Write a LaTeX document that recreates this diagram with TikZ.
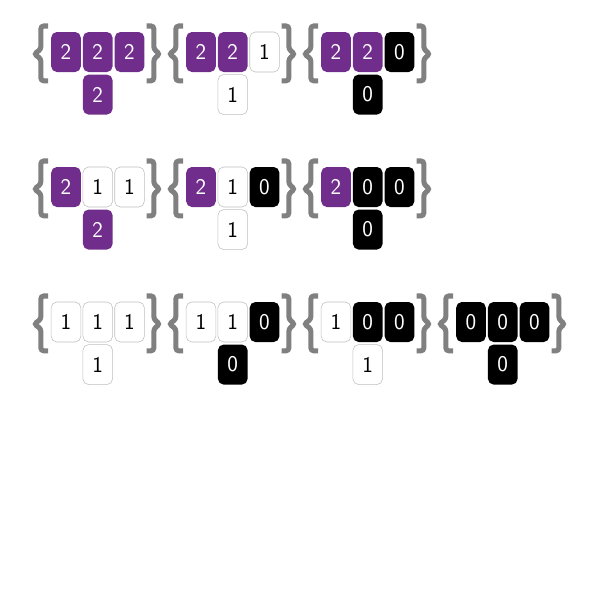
\documentclass[tikz,border=0pt]{standalone}
\usepackage{xcolor}
\usepackage{tikz}
\usetikzlibrary{positioning,calc}
\definecolor{plum}{RGB}{113,45,140}

\begin{document}
\begin{tikzpicture}[
    cell/.style={minimum width=0.74cm, minimum height=1cm, inner sep=0pt, rounded corners=4pt, font=\fontsize{16}{18}\selectfont\sffamily},
    purplecell/.style={cell, fill=plum, text=white},
    whitecell/.style={cell, draw=black!25, fill=white, text=black},
    blackcell/.style={cell, fill=black, text=white},
    curly/.style={draw=black!50, line width=3.6pt, rounded corners=2pt}
]
    \useasboundingbox (0,0) rectangle (15,-15);

    % First row
    \node[purplecell] (s222-1) at (1.65,-1.3) {2};
    \node[purplecell, right=0.04cm of s222-1] (s222-2) {2};
    \node[purplecell, right=0.04cm of s222-2] (s222-3) {2};
    \node[purplecell, below=0.05cm of s222-2] (s222-b) {2};

    \node[purplecell] (s221-1) at (5.025,-1.3) {2};
    \node[purplecell, right=0.04cm of s221-1] (s221-2) {2};
    \node[whitecell, right=0.04cm of s221-2] (s221-3) {1};
    \node[whitecell, below=0.05cm of s221-2] (s221-b) {1};

    \node[purplecell] (s220-1) at (8.4,-1.3) {2};
    \node[purplecell, right=0.04cm of s220-1] (s220-2) {2};
    \node[blackcell, right=0.04cm of s220-2] (s220-3) {0};
    \node[blackcell, below=0.05cm of s220-2] (s220-b) {0};

    % Second row
    \node[purplecell] (s211-1) at (1.65,-4.675) {2};
    \node[whitecell, right=0.04cm of s211-1] (s211-2) {1};
    \node[whitecell, right=0.04cm of s211-2] (s211-3) {1};
    \node[purplecell, below=0.05cm of s211-2] (s211-b) {2};

    \node[purplecell] (s210-1) at (5.025,-4.675) {2};
    \node[whitecell, right=0.04cm of s210-1] (s210-2) {1};
    \node[blackcell, right=0.04cm of s210-2] (s210-3) {0};
    \node[whitecell, below=0.05cm of s210-2] (s210-b) {1};

    \node[purplecell] (s200-1) at (8.4,-4.675) {2};
    \node[blackcell, right=0.04cm of s200-1] (s200-2) {0};
    \node[blackcell, right=0.04cm of s200-2] (s200-3) {0};
    \node[blackcell, below=0.05cm of s200-2] (s200-b) {0};

    % Third row
    \node[whitecell] (s111-1) at (1.65,-8.05) {1};
    \node[whitecell, right=0.04cm of s111-1] (s111-2) {1};
    \node[whitecell, right=0.04cm of s111-2] (s111-3) {1};
    \node[whitecell, below=0.05cm of s111-2] (s111-b) {1};

    \node[whitecell] (s110-1) at (5.025,-8.05) {1};
    \node[whitecell, right=0.04cm of s110-1] (s110-2) {1};
    \node[blackcell, right=0.04cm of s110-2] (s110-3) {0};
    \node[blackcell, below=0.05cm of s110-2] (s110-b) {0};

    \node[whitecell] (s100-1) at (8.4,-8.05) {1};
    \node[blackcell, right=0.04cm of s100-1] (s100-2) {0};
    \node[blackcell, right=0.04cm of s100-2] (s100-3) {0};
    \node[whitecell, below=0.05cm of s100-2] (s100-b) {1};

    \node[blackcell] (s000-1) at (11.775,-8.05) {0};
    \node[blackcell, right=0.04cm of s000-1] (s000-2) {0};
    \node[blackcell, right=0.04cm of s000-2] (s000-3) {0};
    \node[blackcell, below=0.05cm of s000-2] (s000-b) {0};

    % Braces round each set
    \draw[curly] ($(s222-1.west)+(-0.07,0.65)$) -- ++(-0.18,0) -- ++(0,-0.58) -- ++(-0.17,-0.12) -- ++(0.17,-0.12) -- ++(0,-0.55) -- ++(0.18,0);
    \draw[curly] ($(s222-3.east)+(0.05,0.65)$) -- ++(0.18,0) -- ++(0,-0.58) -- ++(0.15,-0.12) -- ++(-0.15,-0.12) -- ++(0,-0.55) -- ++(-0.18,0);
    \draw[curly] ($(s221-1.west)+(-0.07,0.65)$) -- ++(-0.18,0) -- ++(0,-0.58) -- ++(-0.17,-0.12) -- ++(0.17,-0.12) -- ++(0,-0.55) -- ++(0.18,0);
    \draw[curly] ($(s221-3.east)+(0.05,0.65)$) -- ++(0.18,0) -- ++(0,-0.58) -- ++(0.15,-0.12) -- ++(-0.15,-0.12) -- ++(0,-0.55) -- ++(-0.18,0);
    \draw[curly] ($(s220-1.west)+(-0.07,0.65)$) -- ++(-0.18,0) -- ++(0,-0.58) -- ++(-0.17,-0.12) -- ++(0.17,-0.12) -- ++(0,-0.55) -- ++(0.18,0);
    \draw[curly] ($(s220-3.east)+(0.05,0.65)$) -- ++(0.18,0) -- ++(0,-0.58) -- ++(0.15,-0.12) -- ++(-0.15,-0.12) -- ++(0,-0.55) -- ++(-0.18,0);

    \draw[curly] ($(s211-1.west)+(-0.07,0.65)$) -- ++(-0.18,0) -- ++(0,-0.58) -- ++(-0.17,-0.12) -- ++(0.17,-0.12) -- ++(0,-0.55) -- ++(0.18,0);
    \draw[curly] ($(s211-3.east)+(0.05,0.65)$) -- ++(0.18,0) -- ++(0,-0.58) -- ++(0.15,-0.12) -- ++(-0.15,-0.12) -- ++(0,-0.55) -- ++(-0.18,0);
    \draw[curly] ($(s210-1.west)+(-0.07,0.65)$) -- ++(-0.18,0) -- ++(0,-0.58) -- ++(-0.17,-0.12) -- ++(0.17,-0.12) -- ++(0,-0.55) -- ++(0.18,0);
    \draw[curly] ($(s210-3.east)+(0.05,0.65)$) -- ++(0.18,0) -- ++(0,-0.58) -- ++(0.15,-0.12) -- ++(-0.15,-0.12) -- ++(0,-0.55) -- ++(-0.18,0);
    \draw[curly] ($(s200-1.west)+(-0.07,0.65)$) -- ++(-0.18,0) -- ++(0,-0.58) -- ++(-0.17,-0.12) -- ++(0.17,-0.12) -- ++(0,-0.55) -- ++(0.18,0);
    \draw[curly] ($(s200-3.east)+(0.05,0.65)$) -- ++(0.18,0) -- ++(0,-0.58) -- ++(0.15,-0.12) -- ++(-0.15,-0.12) -- ++(0,-0.55) -- ++(-0.18,0);

    \draw[curly] ($(s111-1.west)+(-0.07,0.65)$) -- ++(-0.18,0) -- ++(0,-0.58) -- ++(-0.17,-0.12) -- ++(0.17,-0.12) -- ++(0,-0.55) -- ++(0.18,0);
    \draw[curly] ($(s111-3.east)+(0.05,0.65)$) -- ++(0.18,0) -- ++(0,-0.58) -- ++(0.15,-0.12) -- ++(-0.15,-0.12) -- ++(0,-0.55) -- ++(-0.18,0);
    \draw[curly] ($(s110-1.west)+(-0.07,0.65)$) -- ++(-0.18,0) -- ++(0,-0.58) -- ++(-0.17,-0.12) -- ++(0.17,-0.12) -- ++(0,-0.55) -- ++(0.18,0);
    \draw[curly] ($(s110-3.east)+(0.05,0.65)$) -- ++(0.18,0) -- ++(0,-0.58) -- ++(0.15,-0.12) -- ++(-0.15,-0.12) -- ++(0,-0.55) -- ++(-0.18,0);
    \draw[curly] ($(s100-1.west)+(-0.07,0.65)$) -- ++(-0.18,0) -- ++(0,-0.58) -- ++(-0.17,-0.12) -- ++(0.17,-0.12) -- ++(0,-0.55) -- ++(0.18,0);
    \draw[curly] ($(s100-3.east)+(0.05,0.65)$) -- ++(0.18,0) -- ++(0,-0.58) -- ++(0.15,-0.12) -- ++(-0.15,-0.12) -- ++(0,-0.55) -- ++(-0.18,0);
    \draw[curly] ($(s000-1.west)+(-0.07,0.65)$) -- ++(-0.18,0) -- ++(0,-0.58) -- ++(-0.17,-0.12) -- ++(0.17,-0.12) -- ++(0,-0.55) -- ++(0.18,0);
    \draw[curly] ($(s000-3.east)+(0.05,0.65)$) -- ++(0.18,0) -- ++(0,-0.58) -- ++(0.15,-0.12) -- ++(-0.15,-0.12) -- ++(0,-0.55) -- ++(-0.18,0);
\end{tikzpicture}
\end{document}
